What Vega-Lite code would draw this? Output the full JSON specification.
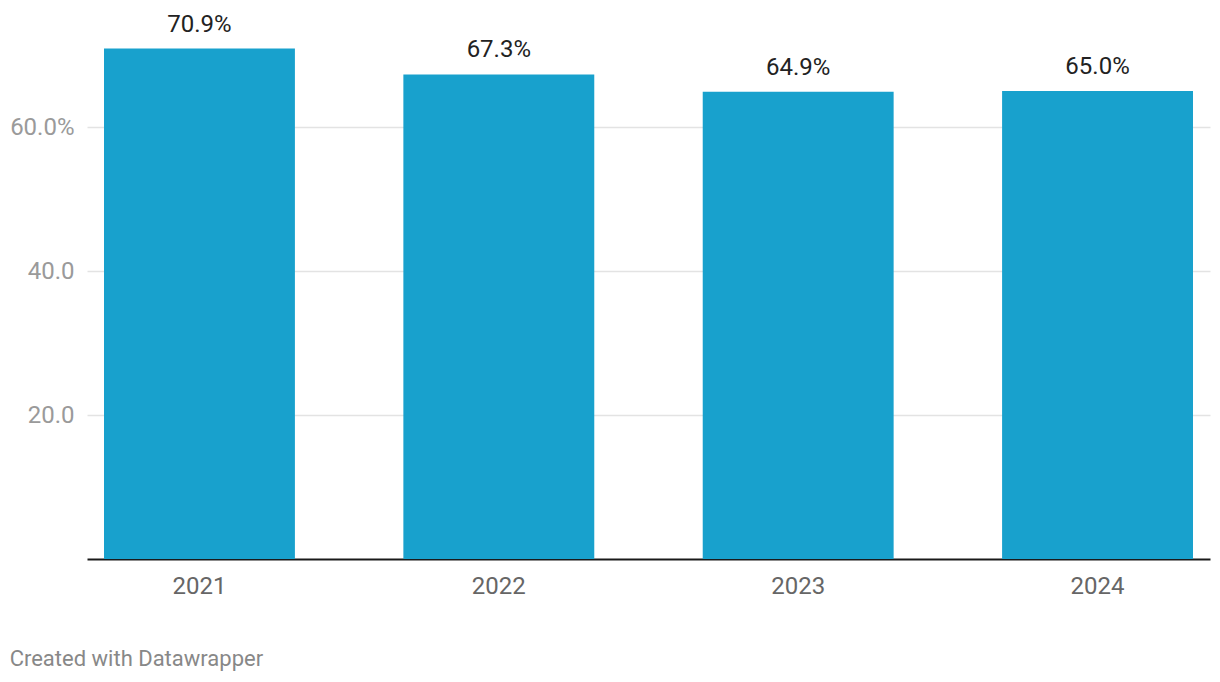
{
  "$schema": "https://vega.github.io/schema/vega-lite/v6.json",
  "autosize": {"type": "none"},
  "width": 1123,
  "height": 540,
  "padding": {"left": 87, "top": 19, "right": 10, "bottom": 123},
  "background": "white",
  "config": {
    "font": "Roboto",
    "view": {"stroke": null}
  },
  "title": {
    "text": "Created with Datawrapper",
    "orient": "bottom",
    "anchor": "start",
    "frame": "bounds",
    "font": "Roboto",
    "fontSize": 22,
    "fontWeight": "normal",
    "color": "#888888",
    "offset": 51
  },
  "data": {
    "values": [
      {"year": "2021", "value": 70.9, "label": "70.9%"},
      {"year": "2022", "value": 67.3, "label": "67.3%"},
      {"year": "2023", "value": 64.9, "label": "64.9%"},
      {"year": "2024", "value": 65.0, "label": "65.0%"}
    ]
  },
  "encoding": {
    "x": {
      "field": "year",
      "type": "nominal",
      "sort": null,
      "scale": {"paddingInner": 0.3623, "paddingOuter": 0.0568},
      "axis": {
        "title": null,
        "labelAngle": 0,
        "ticks": false,
        "domainColor": "#1a1a1a",
        "domainWidth": 2,
        "labelFont": "Roboto",
        "labelFontSize": 24,
        "labelColor": "#666666",
        "labelPadding": 15,
        "grid": false
      }
    },
    "y": {
      "field": "value",
      "type": "quantitative",
      "scale": {"domain": [0, 75], "nice": false},
      "axis": {
        "title": null,
        "values": [20, 40, 60],
        "labelExpr": "datum.value == 60 ? '60.0%' : format(datum.value, '.1f')",
        "domain": false,
        "ticks": false,
        "grid": true,
        "gridColor": "#e3e3e3",
        "gridWidth": 1.5,
        "labelFont": "Roboto",
        "labelFontSize": 24,
        "labelColor": "#9a9a9a",
        "labelPadding": 13
      }
    }
  },
  "layer": [
    {"mark": {"type": "bar", "color": "#18a1cd"}},
    {
      "mark": {"type": "text", "baseline": "bottom", "dy": -12, "fontSize": 24, "font": "Roboto", "color": "#222222"},
      "encoding": {"text": {"field": "label", "type": "nominal"}}
    }
  ]
}
